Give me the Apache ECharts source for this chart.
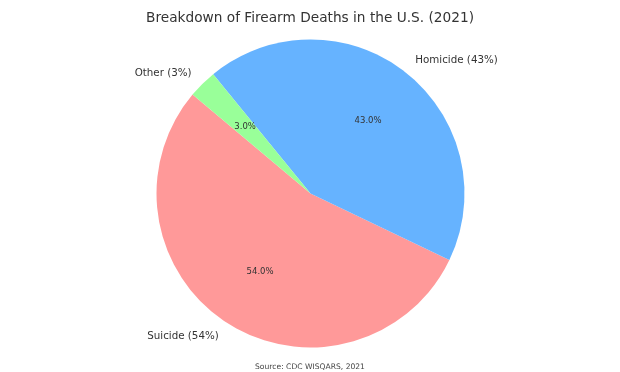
<!DOCTYPE html>
<html><head><meta charset="utf-8">
<script src="https://cdn.jsdelivr.net/npm/echarts@6/dist/echarts.min.js"></script>
<style>html,body{margin:0;padding:0;background:#fff}#c{width:620px;height:372px}</style>
</head><body><div id="c"></div>
<script>
const categories = ['Suicide', 'Homicide', 'Other'];
const values = [54, 43, 3];
const colors = ['#ff9999', '#66b3ff', '#99ff99'];
const titleText = 'Breakdown of Firearm Deaths in the U.S. (2021)';
const sourceText = 'Source: CDC WISQARS, 2021';

const R = 154;
const center = [310.5, 193.5];
const font = 'DejaVu Sans';
const data = categories.map((c, i) => ({ name: c, value: values[i], itemStyle: { color: colors[i] } }));

const chart = echarts.init(document.getElementById('c'), null, { renderer: 'canvas' });
chart.setOption({
  animation: false,
  title: [
    { text: titleText, left: 'center', top: 6, textStyle: { fontFamily: font, fontSize: 13.7, fontWeight: 'normal', color: '#333' } },
    { text: sourceText, left: 'center', top: 358, textStyle: { fontFamily: font, fontSize: 7.6, fontWeight: 'normal', color: '#444' } }
  ],
  series: [
    {
      type: 'pie', center: center, radius: [0, R], startAngle: 140, clockwise: false,
      data: data,
      label: {
        show: true, position: 'outside', fontFamily: font, fontSize: 10.3, color: '#333',
        distanceToLabelLine: 0,
        formatter: p => p.name + ' (' + Math.round(p.percent) + '%)'
      },
      labelLine: { show: false, length: 15.4, length2: 0 },
      emphasis: { disabled: true },
      silent: true
    },
    {
      type: 'pie', center: center, radius: [R * 0.17, R], startAngle: 140, clockwise: false,
      data: data.map(d => ({ name: d.name, value: d.value, itemStyle: { color: 'transparent' } })),
      label: {
        show: true, position: 'inside', fontFamily: font, fontSize: 8.5, color: '#333',
        formatter: p => p.percent.toFixed(1) + '%'
      },
      labelLine: { show: false },
      emphasis: { disabled: true },
      silent: true
    }
  ]
});
</script></body></html>
